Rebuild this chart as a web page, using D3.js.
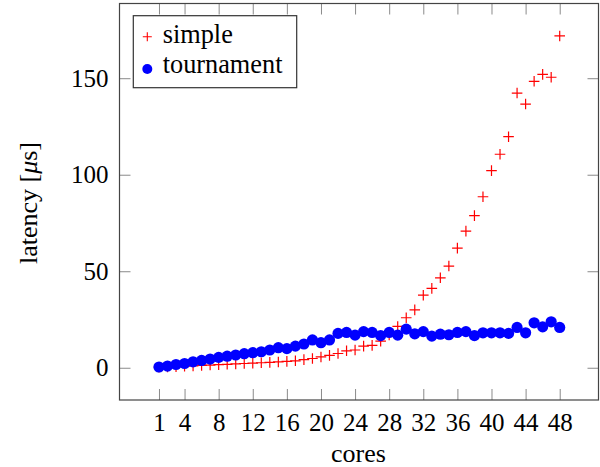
<!DOCTYPE html>
<html>
<head>
<meta charset="utf-8">
<script src="https://cdn.jsdelivr.net/npm/d3@7"></script>
<style>
  body { margin: 0; background: #fff; }
  svg { display: block; }
  text { font-family: "Liberation Serif", "Times New Roman", serif; }
</style>
</head>
<body>
<div id="container"></div>
<script>
const cores = [1, 2, 3, 4, 5, 6, 7, 8, 9, 10, 11, 12, 13, 14, 15, 16, 17, 18, 19, 20, 21, 22, 23, 24,
               25, 26, 27, 28, 29, 30, 31, 32, 33, 34, 35, 36, 37, 38, 39, 40, 41, 42, 43, 44, 45, 46, 47, 48];
const simple = [0.3, 0.4, 0.6, 0.8, 1.0, 1.2, 1.4, 1.6, 1.8, 2.0, 2.2, 2.4, 2.6, 2.8, 3.0, 3.3, 3.6, 4.2, 4.8, 5.6, 6.4, 7.4, 8.8, 9.2,
                11.2, 11.6, 13.8, 17.0, 21.4, 25.9, 30.0, 37.6, 41.1, 46.6, 52.7, 62.0, 70.8, 78.8, 88.6, 102.1, 110.6, 119.7, 142.3, 136.6, 148.4, 152.0, 150.5, 171.9];
const tournament = [0.4, 0.9, 1.7, 2.2, 3.1, 3.8, 4.5, 5.4, 6.0, 6.6, 7.3, 7.8, 8.3, 9.2, 10.4, 9.9, 11.2, 12.3, 14.4, 13.0, 14.4, 17.8, 18.3, 16.9,
                    18.7, 18.3, 16.7, 18.3, 16.9, 20.0, 17.6, 18.7, 16.4, 17.4, 17.1, 18.3, 18.7, 16.7, 18.1, 18.1, 18.1, 17.8, 20.9, 18.1, 23.3, 21.2, 23.8, 20.9];
const xTicks = [1, 4, 8, 12, 16, 20, 24, 28, 32, 36, 40, 44, 48];
const yTicks = [0, 50, 100, 150];

const WIDTH = 600, HEIGHT = 467;
const mLeft = 119.5, mRight = 598.5, mTop = 3.5, mBottom = 400;
const font = "Liberation Serif";

let svg = d3.select("#container")
  .append("svg")
  .attr("width", WIDTH)
  .attr("height", HEIGHT);

const x = d3.scaleLinear().domain([-3.63, 52.55]).range([mLeft, mRight]);
const y = d3.scaleLinear().domain([-16.7, 188.7]).range([mBottom, mTop]);

function styleAxis(g) {
  g.attr("font-family", font);
  g.select(".domain").remove();
  g.selectAll(".tick line").attr("stroke", "#8a8a8a").attr("stroke-width", 1);
  g.selectAll("text").attr("font-family", font).attr("font-size", 25).attr("fill", "#000");
}

svg.append("g")
  .attr("transform", `translate(0,${mBottom})`)
  .call(d3.axisBottom(x).tickValues(xTicks).tickSize(-11).tickPadding(13))
  .call(styleAxis);

svg.append("g")
  .attr("transform", `translate(0,${mTop})`)
  .call(d3.axisTop(x).tickValues(xTicks).tickSize(-11).tickFormat(""))
  .call(styleAxis);

svg.append("g")
  .attr("transform", `translate(${mLeft},0)`)
  .call(d3.axisLeft(y).tickValues(yTicks).tickSize(-11).tickPadding(11))
  .call(styleAxis);

svg.append("g")
  .attr("transform", `translate(${mRight},0)`)
  .call(d3.axisRight(y).tickValues(yTicks).tickSize(-11).tickFormat(""))
  .call(styleAxis);

svg.append("rect")
  .attr("x", mLeft).attr("y", mTop)
  .attr("width", mRight - mLeft).attr("height", mBottom - mTop)
  .attr("fill", "none").attr("stroke", "#444").attr("stroke-width", 1.2);

// simple series: red plus marks
svg.append("g").selectAll("path")
  .data(cores)
  .enter()
  .append("path")
  .attr("d", (d, i) => {
    const cx = x(d), cy = y(simple[i]);
    return `M${cx - 5.3},${cy}H${cx + 5.3}M${cx},${cy - 5.3}V${cy + 5.3}`;
  })
  .attr("stroke", "#ff0000")
  .attr("stroke-width", 1.2)
  .attr("fill", "none");

// tournament series: blue dots
svg.append("g").selectAll("circle")
  .data(cores)
  .enter()
  .append("circle")
  .attr("cx", d => x(d))
  .attr("cy", (d, i) => y(tournament[i]))
  .attr("r", 5.6)
  .attr("fill", "#0000ff");

// legend
let legend = svg.append("g").attr("font-family", font);
legend.append("rect")
  .attr("x", 133.3).attr("y", 15.7)
  .attr("width", 163.4).attr("height", 72)
  .attr("fill", "#fff").attr("stroke", "#333").attr("stroke-width", 1.2);
legend.append("path")
  .attr("d", "M142.8,36.7H151.8M147.3,32.2V41.2")
  .attr("stroke", "#ff0000").attr("stroke-width", 1.1);
legend.append("circle")
  .attr("cx", 147.3).attr("cy", 69).attr("r", 5)
  .attr("fill", "#0000ff");
legend.append("text")
  .attr("x", 162.7).attr("y", 43.3)
  .attr("font-family", font)
  .attr("font-size", 26.3)
  .text("simple");
legend.append("text")
  .attr("x", 162.7).attr("y", 73.3)
  .attr("font-family", font)
  .attr("font-size", 26.3)
  .text("tournament");

// axis labels
svg.append("text")
  .attr("x", 358.5).attr("y", 461.5)
  .attr("text-anchor", "middle")
  .attr("font-family", font)
  .attr("font-size", 26)
  .text("cores");

let ylab = svg.append("text")
  .attr("transform", "translate(37,203) rotate(-90)")
  .attr("text-anchor", "middle")
  .attr("font-family", font)
  .attr("font-size", 26);
ylab.append("tspan").text("latency [");
ylab.append("tspan").attr("font-style", "italic").text("μ");
ylab.append("tspan").text("s]");
</script>
</body>
</html>
